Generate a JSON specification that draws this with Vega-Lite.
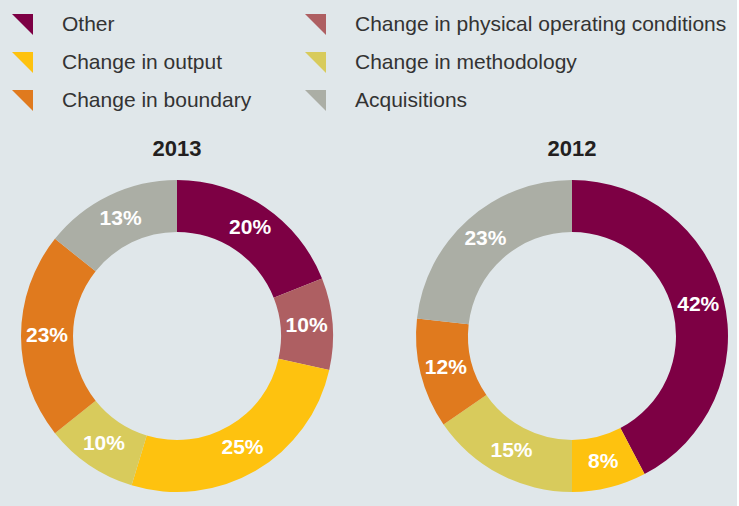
{
  "$schema": "https://vega.github.io/schema/vega-lite/v6.json",
  "background": "#e0e7ea",
  "padding": {"left": 12, "top": 14, "right": 0, "bottom": 20},
  "data": {"values": [
    {"year": "2013", "category": "Other", "rank": 1, "share": 19.0, "label": "20%"},
    {"year": "2013", "category": "Change in physical operating conditions", "rank": 2, "share": 9.5, "label": "10%"},
    {"year": "2013", "category": "Change in output", "rank": 3, "share": 26.2, "label": "25%"},
    {"year": "2013", "category": "Change in methodology", "rank": 4, "share": 9.6, "label": "10%"},
    {"year": "2013", "category": "Change in boundary", "rank": 5, "share": 21.4, "label": "23%"},
    {"year": "2013", "category": "Acquisitions", "rank": 6, "share": 14.3, "label": "13%"},
    {"year": "2012", "category": "Other", "rank": 1, "share": 42.3, "label": "42%"},
    {"year": "2012", "category": "Change in output", "rank": 3, "share": 7.7, "label": "8%"},
    {"year": "2012", "category": "Change in methodology", "rank": 4, "share": 15.4, "label": "15%"},
    {"year": "2012", "category": "Change in boundary", "rank": 5, "share": 11.4, "label": "12%"},
    {"year": "2012", "category": "Acquisitions", "rank": 6, "share": 23.2, "label": "23%"}
  ]},
  "facet": {
    "column": {
      "field": "year", "type": "nominal", "sort": ["2013", "2012"],
      "header": {"title": null, "labelFontSize": 22, "labelFontWeight": "bold", "labelColor": "#231f20", "labelFont": "Liberation Sans", "labelPadding": 15}
    }
  },
  "spacing": 65,
  "spec": {
    "width": 330,
    "height": 320,
    "encoding": {
      "theta": {"field": "share", "type": "quantitative", "stack": true},
      "order": {"field": "rank", "type": "quantitative"}
    },
    "layer": [
      {
        "mark": {"type": "arc", "innerRadius": 104, "outerRadius": 156},
        "encoding": {
          "color": {
            "field": "category", "type": "nominal",
            "scale": {
              "domain": ["Other", "Change in physical operating conditions", "Change in output", "Change in methodology", "Change in boundary", "Acquisitions"],
              "range": ["#7d0044", "#ae5f62", "#fec20f", "#d8cb5c", "#e07a1e", "#abaea5"]
            },
            "legend": {
              "orient": "top", "title": null, "columns": 2, "direction": "horizontal",
              "symbolType": "M-1,-1L1,-1L1,1Z", "symbolSize": 441, "symbolStrokeWidth": 0,
              "labelFontSize": 21, "labelFont": "Liberation Sans", "labelColor": "#333333",
              "labelLimit": 500, "labelOffset": 29, "rowPadding": 16, "columnPadding": 53,
              "offset": 27
            }
          }
        }
      },
      {
        "mark": {"type": "text", "radius": 130, "fill": "white", "fontSize": 21, "fontWeight": "bold", "font": "Liberation Sans"},
        "encoding": {"text": {"field": "label", "type": "nominal"}}
      }
    ]
  },
  "config": {"view": {"stroke": null}}
}
